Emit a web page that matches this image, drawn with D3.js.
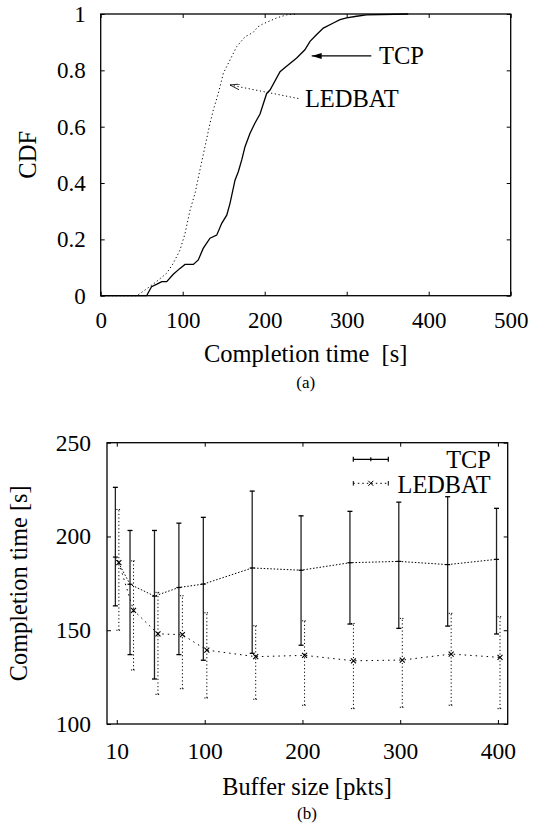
<!DOCTYPE html>
<html><head><meta charset="utf-8">
<script src="https://cdn.jsdelivr.net/npm/d3@7"></script>
</head>
<body style="margin:0;background:#fff"><svg id="c" width="543" height="826"></svg>
<script>
// ---- Chart (a): CDF of completion time ----
const tcpTime = [0,56,62,68,74.4,80.5,88.5,96.7,102.8,113,119,125,133.3,141.5,147.6,153.7,157.7,163.8,167.8,172,176,182,188,194.3,202.4,206.5,218.7,224.8,239,249,255.3,263.4,271.5,283.7,291.8,300,312,324,375];
const tcpCdf  = [0,0,0.032,0.04,0.05,0.05,0.076,0.097,0.111,0.111,0.127,0.168,0.204,0.215,0.257,0.286,0.328,0.41,0.44,0.482,0.529,0.576,0.612,0.645,0.718,0.73,0.795,0.81,0.844,0.873,0.903,0.927,0.95,0.968,0.98,0.986,0.992,0.997,1];
const ledTime = [0,44,54,68,80.5,88.5,96.7,102.8,109,115,121,127.2,133.3,137.3,143.4,149.6,157.7,165.8,176,186,192,198,214.6,226.8,240];
const ledCdf  = [0,0,0.02,0.05,0.08,0.115,0.162,0.22,0.304,0.363,0.446,0.529,0.612,0.659,0.718,0.79,0.837,0.884,0.919,0.935,0.955,0.965,0.986,0.997,1];
const cdfXTicks = [0,100,200,300,400,500];
const cdfYTicks = [0,0.2,0.4,0.6,0.8,1];
const cdfYLabels = ["0","0.2","0.4","0.6","0.8","1"];

// ---- Chart (b): completion time vs buffer size ----
const bufferSizes = [10,25,50,75,100,150,200,250,300,350,400];
const tcpMean = [189,174.5,168.2,172.8,174.6,183.2,182,186,186.7,185,187.8];
const tcpLow  = [163,137,124,137,134,137.7,142,153.3,151,152.2,148];
const tcpHigh = [226.2,203.2,203.2,207.1,210.2,224.2,211,213.4,218.3,221.2,215];
const ledMean = [186,160.6,148.1,147.6,139.4,135.9,136.6,133.7,134.1,137.3,135.5];
const ledLow  = [150,128.8,115.8,118.8,113.9,113.2,110,108.2,108.9,110,108.2];
const ledHigh = [214.4,187,170.2,168.4,159.3,152.4,155,153.6,156.3,159,157.2];
const bufXTicks = [10,100,200,300,400];
const bufYTicks = [100,150,200,250];

const FONT = '"Liberation Serif"';
const svg = d3.select("#c");
const defs = svg.append("defs");
defs.append("marker").attr("id","ah").attr("viewBox","0 0 10 6").attr("refX",10).attr("refY",3)
  .attr("markerWidth",10).attr("markerHeight",6).attr("markerUnits","userSpaceOnUse").attr("orient","auto")
  .append("path").attr("d","M0,0 L10,3 L0,6 Z").attr("fill","#000");
defs.append("marker").attr("id","ah2").attr("viewBox","0 0 10 6").attr("refX",10).attr("refY",3)
  .attr("markerWidth",10).attr("markerHeight",6).attr("markerUnits","userSpaceOnUse").attr("orient","auto")
  .append("path").attr("d","M0,0 L10,3 L0,6").attr("fill","none").attr("stroke","#000").attr("stroke-width",0.8);

function label(g, x, y, str, fs, anchor){
  return g.append("text").attr("x",x).attr("y",y).attr("text-anchor",anchor||"start")
    .style("font-family",FONT).style("font-size",fs+"px").attr("fill","#000").text(str);
}

function frame(g, x, y, xt, yt, xfmt, yfmt, fs, padX, padY){
  const [x0,x1] = x.range(), [y0,y1] = y.range();
  const ax = (a)=>a.tickSizeOuter(0);
  g.append("g").attr("transform",`translate(0,${y0})`)
   .call(ax(d3.axisBottom(x).tickValues(xt).tickSize(-4).tickPadding(padX).tickFormat(xfmt)));
  g.append("g").attr("transform",`translate(0,${y1})`)
   .call(ax(d3.axisTop(x).tickValues(xt).tickSize(-4).tickFormat("")));
  g.append("g").attr("transform",`translate(${x0},0)`)
   .call(ax(d3.axisLeft(y).tickValues(yt).tickSize(-4).tickPadding(padY).tickFormat(yfmt)));
  g.append("g").attr("transform",`translate(${x1},0)`)
   .call(ax(d3.axisRight(y).tickValues(yt).tickSize(-4).tickFormat("")));
  g.selectAll(".domain").remove();
  g.selectAll(".tick line").attr("stroke","#000").attr("stroke-width",1);
  g.selectAll(".tick text").style("font-family",FONT).style("font-size",fs+"px").attr("fill","#000");
  g.append("rect").attr("x",x0).attr("y",y1).attr("width",x1-x0).attr("height",y0-y1)
   .attr("fill","none").attr("stroke","#000").attr("stroke-width",1.3);
}

// ===== (a) =====
const xa = d3.scaleLinear().domain([0,500]).range([100.7,510.7]);
const ya = d3.scaleLinear().domain([0,1]).range([295.7,14]);
const ga = svg.append("g");
const lineA = d3.line().x(d=>xa(d[0])).y(d=>ya(d[1]));
ga.append("path").datum(ledTime.map((t,i)=>[t,ledCdf[i]])).attr("d",lineA)
  .attr("fill","none").attr("stroke","#000").attr("stroke-width",1).attr("stroke-dasharray","1.2,2.6");
ga.append("path").datum(tcpTime.map((t,i)=>[t,tcpCdf[i]])).attr("d",lineA)
  .attr("fill","none").attr("stroke","#000").attr("stroke-width",1.3);
frame(ga, xa, ya, cdfXTicks, cdfYTicks, d3.format("d"), (d,i)=>cdfYLabels[i], 23, 16, 15);
// annotations
ga.append("line").attr("x1",xa(330)).attr("y1",ya(0.851)).attr("x2",xa(257.3)).attr("y2",ya(0.851))
  .attr("stroke","#000").attr("stroke-width",1.3).attr("marker-end","url(#ah)");
label(ga, xa(339.4), ya(0.851), "TCP", 24.5).attr("dy","0.33em");
ga.append("line").attr("x1",xa(241)).attr("y1",ya(0.70)).attr("x2",xa(157.7)).attr("y2",ya(0.748))
  .attr("stroke","#000").attr("stroke-width",1).attr("stroke-dasharray","1.2,2.6").attr("marker-end","url(#ah2)");
label(ga, xa(249), ya(0.70), "LEDBAT", 24.5).attr("dy","0.33em");
label(ga, 305.7, 362, "Completion time  [s]", 24.5, "middle").style("white-space","pre");
label(ga, 305.7, 388, "(a)", 17, "middle");
label(ga, 0, 0, "CDF", 24.5, "middle").attr("transform","translate(36,154.8) rotate(-90)");

// ===== (b) =====
const xb = d3.scaleLinear().domain([0,410]).range([107,507.7]);
const yb = d3.scaleLinear().domain([100,250]).range([724,442.7]);
const gb = svg.append("g");
const tcpDx = -1.4, ledDx = 2.1;
const tcpPts = bufferSizes.map((b,i)=>({x:xb(b)+tcpDx, m:tcpMean[i], lo:tcpLow[i], hi:tcpHigh[i]}));
const ledPts = bufferSizes.map((b,i)=>({x:xb(b)+ledDx, m:ledMean[i], lo:ledLow[i], hi:ledHigh[i]}));
const lineB = d3.line().x(d=>d.x).y(d=>yb(d.m));
// LEDBAT
gb.append("path").datum(ledPts).attr("d",lineB).attr("fill","none").attr("stroke","#000")
  .attr("stroke-width",1).attr("stroke-dasharray","1.5,4");
const le = gb.append("g").selectAll("g").data(ledPts).join("g");
le.append("line").attr("x1",d=>d.x).attr("x2",d=>d.x).attr("y1",d=>yb(d.lo)).attr("y2",d=>yb(d.hi))
  .attr("stroke","#000").attr("stroke-width",1).attr("stroke-dasharray","1.2,2.4");
le.append("line").attr("x1",d=>d.x-2.5).attr("x2",d=>d.x+2.5).attr("y1",d=>yb(d.lo)).attr("y2",d=>yb(d.lo))
  .attr("stroke","#000").attr("stroke-width",1).attr("stroke-dasharray","1.2,1.3");
le.append("line").attr("x1",d=>d.x-2.5).attr("x2",d=>d.x+2.5).attr("y1",d=>yb(d.hi)).attr("y2",d=>yb(d.hi))
  .attr("stroke","#000").attr("stroke-width",1).attr("stroke-dasharray","1.2,1.3");
le.append("path").attr("d",d=>`M${d.x-2.5},${yb(d.m)-2.5}L${d.x+2.5},${yb(d.m)+2.5}M${d.x-2.5},${yb(d.m)+2.5}L${d.x+2.5},${yb(d.m)-2.5}`)
  .attr("stroke","#000").attr("stroke-width",1.1);
// TCP
gb.append("path").datum(tcpPts).attr("d",lineB).attr("fill","none").attr("stroke","#000")
  .attr("stroke-width",1).attr("stroke-dasharray","1.5,1.8");
const te = gb.append("g").selectAll("g").data(tcpPts).join("g");
te.append("line").attr("x1",d=>d.x).attr("x2",d=>d.x).attr("y1",d=>yb(d.lo)).attr("y2",d=>yb(d.hi))
  .attr("stroke","#222").attr("stroke-width",1.3);
te.append("line").attr("x1",d=>d.x-2.5).attr("x2",d=>d.x+2.5).attr("y1",d=>yb(d.lo)).attr("y2",d=>yb(d.lo))
  .attr("stroke","#000").attr("stroke-width",1.3);
te.append("line").attr("x1",d=>d.x-2.5).attr("x2",d=>d.x+2.5).attr("y1",d=>yb(d.hi)).attr("y2",d=>yb(d.hi))
  .attr("stroke","#000").attr("stroke-width",1.3);
te.append("path").attr("d",d=>`M${d.x-2.5},${yb(d.m)}L${d.x+2.5},${yb(d.m)}`)
  .attr("stroke","#000").attr("stroke-width",1.2);
frame(gb, xb, yb, bufXTicks, bufYTicks, d3.format("d"), d3.format("d"), 23.5, 18, 16);
// legend
const lg = gb.append("g");
lg.append("line").attr("x1",353.3).attr("x2",388.3).attr("y1",459.3).attr("y2",459.3).attr("stroke","#000").attr("stroke-width",1.3);
lg.append("path").attr("d","M353.3,456.8V461.8M388.3,456.8V461.8M370.8,457.3V461.3").attr("stroke","#000").attr("stroke-width",1.2);
label(lg, 490.7, 468.3, "TCP", 24.3, "end");
lg.append("line").attr("x1",353.3).attr("x2",388.3).attr("y1",483.3).attr("y2",483.3).attr("stroke","#000").attr("stroke-width",1).attr("stroke-dasharray","1.5,3");
lg.append("path").attr("d","M353.3,481V485.6M388.3,481V485.6M368.3,480.8L373.3,485.8M368.3,485.8L373.3,480.8").attr("stroke","#000").attr("stroke-width",1).attr("fill","none");
label(lg, 490.7, 492.7, "LEDBAT", 24.3, "end");
label(gb, 307, 795, "Buffer size [pkts]", 24.3, "middle");
label(gb, 307, 819, "(b)", 17, "middle");
label(gb, 0, 0, "Completion time [s]", 24.3, "middle").attr("transform","translate(27,583.3) rotate(-90)");
</script></body></html>
